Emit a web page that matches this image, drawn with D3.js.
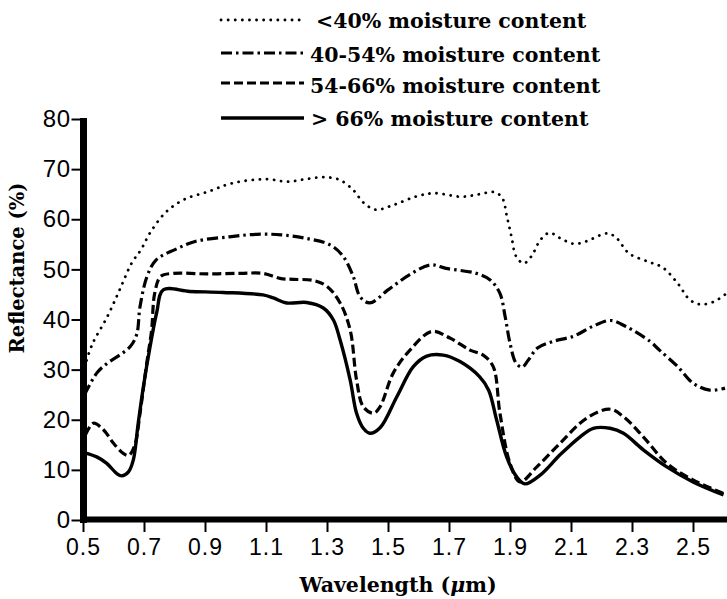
<!DOCTYPE html>
<html>
<head>
<meta charset="utf-8">
<script src="https://cdn.jsdelivr.net/npm/d3@7"></script>
<style>
  html, body { margin: 0; padding: 0; background: #fff; }
  svg { display: block; }
</style>
</head>
<body>
<svg id="chart" width="727" height="599"></svg>
<script>
// ---- data (wavelength in µm, reflectance in %) ----
const xTicks = [0.5, 0.7, 0.9, 1.1, 1.3, 1.5, 1.7, 1.9, 2.1, 2.3, 2.5];
const yTicks = [0, 10, 20, 30, 40, 50, 60, 70, 80];

const seriesLabels = ["<40% moisture content", "40-54% moisture content", "54-66% moisture content", "> 66% moisture content"];

const moistureLt40 = [
  [0.505,30.5],[0.53,35],[0.58,40.6],[0.62,45.9],[0.66,51.3],[0.69,53.9],[0.72,57.3],[0.77,61.3],
  [0.83,63.9],[0.91,65.5],[0.99,67.2],[1.10,68.0],[1.17,67.5],[1.23,68.0],[1.29,68.4],[1.34,67.9],
  [1.385,65.9],[1.42,63.3],[1.46,61.9],[1.52,62.9],[1.59,64.5],[1.65,65.2],[1.74,64.5],[1.80,65.0],
  [1.85,65.4],[1.875,64.2],[1.89,60.5],[1.905,56.5],[1.92,52.6],[1.945,51.2],[1.97,52.6],[2.0,55.9],
  [2.03,57.3],[2.065,56.2],[2.11,55.1],[2.15,55.6],[2.22,57.2],[2.25,56.2],[2.29,53.2],[2.35,51.6],
  [2.40,50.4],[2.45,47.2],[2.49,43.9],[2.525,43.0],[2.57,43.6],[2.61,45.2]
];
const moisture40to54 = [
  [0.505,25],[0.545,29.3],[0.58,31.3],[0.62,32.9],[0.655,34.6],[0.676,37],[0.687,42.6],[0.71,48.6],
  [0.74,51.9],[0.80,53.9],[0.87,55.6],[0.98,56.5],[1.07,57.0],[1.15,56.9],[1.23,56.2],[1.31,54.9],
  [1.353,52.6],[1.386,48.6],[1.408,44.6],[1.44,43.3],[1.50,45.9],[1.57,48.9],[1.64,50.9],[1.69,50.2],
  [1.79,49.2],[1.835,47.9],[1.867,45.2],[1.884,40.6],[1.90,35.3],[1.92,31.3],[1.94,30.5],[1.96,31.9],
  [1.99,34.3],[2.04,35.6],[2.11,36.7],[2.17,38.6],[2.23,39.8],[2.28,38.6],[2.36,35.6],[2.39,33.9],
  [2.45,30.6],[2.50,27.3],[2.555,25.9],[2.605,26.3]
];
const moisture54to66 = [
  [0.508,17.0],[0.534,19.3],[0.567,18.0],[0.60,15.3],[0.632,13.3],[0.65,12.9],[0.67,15.0],[0.687,21.3],
  [0.709,31.3],[0.725,37.9],[0.735,45.2],[0.755,48.6],[0.796,49.2],[0.906,49.1],[1.015,49.2],[1.09,49.2],
  [1.146,48.2],[1.19,48.0],[1.255,47.8],[1.30,46.6],[1.343,43.3],[1.376,37.9],[1.397,27.9],[1.419,22.6],
  [1.452,21.3],[1.474,22.6],[1.517,29.3],[1.572,33.9],[1.643,37.6],[1.703,36.3],[1.769,33.9],[1.812,32.9],
  [1.845,30.6],[1.867,21.3],[1.90,11.3],[1.933,7.6],[1.988,10.6],[2.064,15.3],[2.151,20.3],[2.228,22.1],
  [2.272,20.6],[2.337,16.6],[2.414,11.3],[2.50,8.0],[2.60,5.3]
];
const moistureGt66 = [
  [0.505,13.4],[0.545,12.6],[0.578,11.3],[0.61,9.3],[0.627,8.8],[0.649,9.6],[0.665,12.0],[0.681,19.3],
  [0.698,26.6],[0.72,34.6],[0.742,41.5],[0.763,45.9],[0.85,45.6],[0.96,45.4],[1.09,44.9],[1.124,44.3],
  [1.168,43.3],[1.233,43.4],[1.288,42.3],[1.321,39.9],[1.343,35.9],[1.376,27.9],[1.397,21.3],[1.419,18.3],
  [1.441,17.3],[1.474,18.4],[1.529,24.6],[1.583,30.6],[1.627,32.7],[1.681,32.9],[1.736,31.6],[1.80,28.6],
  [1.83,25.9],[1.856,20.0],[1.889,12.6],[1.922,8.6],[1.949,7.2],[2.0,9.0],[2.064,13.0],[2.13,16.6],
  [2.173,18.3],[2.228,18.3],[2.272,17.3],[2.337,14.0],[2.414,10.6],[2.50,7.6],[2.60,5.0]
];

const seriesData = [moistureLt40, moisture40to54, moisture54to66, moistureGt66];

// ---- styles ----
const styles = [
  { width: 2.8, dash: "0.1,7", cap: "round" },
  { width: 3.2, dash: "11,4,2.5,4", cap: "butt" },
  { width: 3.2, dash: "9,4", cap: "butt" },
  { width: 3.4, dash: null, cap: "butt" }
];

const svg = d3.select("#chart");
const serif = "'DejaVu Serif', serif";
const sans = "'Liberation Sans', Arial, sans-serif";

const x = d3.scaleLinear().domain([0.5, 2.62]).range([83, 729.6]);
const y = d3.scaleLinear().domain([0, 80]).range([520, 119]);

// curves
const line = d3.line()
  .x(d => x(d[0]))
  .y(d => y(d[1]))
  .curve(d3.curveCatmullRom.alpha(0.5));

svg.append("g").selectAll("path")
  .data(seriesData)
  .join("path")
  .attr("d", line)
  .attr("fill", "none")
  .attr("stroke", "#000")
  .attr("stroke-width", (d, i) => styles[i].width)
  .attr("stroke-dasharray", (d, i) => styles[i].dash)
  .attr("stroke-linecap", (d, i) => styles[i].cap)
  .attr("stroke-linejoin", "round");

// x axis
const xAxis = svg.append("g")
  .attr("transform", "translate(0,519)")
  .call(d3.axisBottom(x).tickValues(xTicks).tickFormat(d3.format(".1f"))
    .tickSize(13).tickPadding(7).tickSizeOuter(0));
xAxis.select(".domain").attr("stroke", "#000").attr("stroke-width", 6);
xAxis.selectAll(".tick line").attr("stroke", "#000").attr("stroke-width", 2);
xAxis.selectAll(".tick text")
  .attr("fill", "#000")
  .style("font-family", sans)
  .style("font-size", "23px")
  .style("letter-spacing", "1px");

// y axis
const yAxis = svg.append("g")
  .attr("transform", "translate(83.5,0)")
  .call(d3.axisLeft(y).tickValues(yTicks)
    .tickSize(12).tickPadding(1).tickSizeOuter(0));
yAxis.select(".domain").attr("stroke", "#000").attr("stroke-width", 7)
  .attr("d", `M0,${y(0) + 3}V${y(80) - 1}`);
yAxis.selectAll(".tick line").attr("stroke", "#000").attr("stroke-width", 2);
yAxis.selectAll(".tick text")
  .attr("fill", "#000")
  .style("font-family", sans)
  .style("font-size", "24px")
  .style("letter-spacing", "0.5px");

// axis titles
svg.append("text")
  .attr("transform", "translate(24,268) rotate(-90)")
  .attr("text-anchor", "middle")
  .style("font-family", serif)
  .style("font-weight", "bold")
  .style("font-size", "19.5px")
  .text("Reflectance (%)");

const xt = svg.append("text")
  .attr("x", 398).attr("y", 592)
  .attr("text-anchor", "middle")
  .style("font-family", serif)
  .style("font-weight", "bold")
  .style("font-size", "20.5px");
xt.append("tspan").text("Wavelength (");
xt.append("tspan").style("font-style", "italic").text("\u03BC");
xt.append("tspan").text("m)");

// legend
const legendLineY = [20, 53, 83, 118];
const legendTextY = [28, 62, 93, 126];
const legendTextX = [316, 310, 310, 311];
const lg = svg.append("g");
seriesLabels.forEach((lab, i) => {
  lg.append("line")
    .attr("x1", 221).attr("x2", 304)
    .attr("y1", legendLineY[i]).attr("y2", legendLineY[i])
    .attr("stroke", "#000")
    .attr("stroke-width", styles[i].width)
    .attr("stroke-dasharray", styles[i].dash)
    .attr("stroke-linecap", styles[i].cap);
  lg.append("text")
    .attr("x", legendTextX[i]).attr("y", legendTextY[i])
    .style("font-family", serif)
    .style("font-weight", "bold")
    .style("font-size", "20.5px")
    .text(lab);
});
</script>
</body>
</html>
